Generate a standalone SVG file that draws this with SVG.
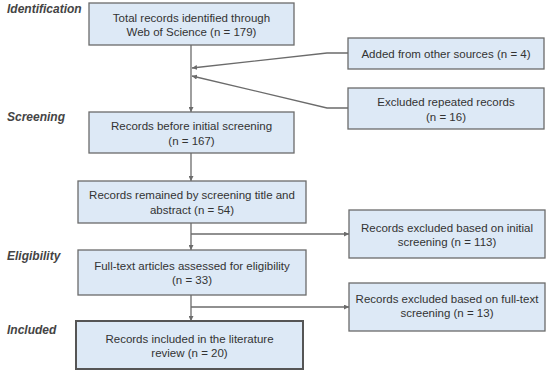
<svg xmlns="http://www.w3.org/2000/svg" width="550" height="374" viewBox="0 0 550 374">
<defs>
<style>
.box{fill:#dde9f6;stroke:#6b6b6b;stroke-width:1.3}
.boxb{fill:#dde9f6;stroke:#555;stroke-width:2}
.t{font-family:"Liberation Sans",Arial,sans-serif;font-size:11.5px;fill:#333;text-anchor:middle}
.stage{font-family:"Liberation Sans",Arial,sans-serif;font-size:12px;font-weight:bold;font-style:italic;fill:#444}
.c{fill:none;stroke:#6b6b6b;stroke-width:1.3}
</style>
<marker id="ah" viewBox="0 0 10 10" refX="10" refY="5" markerWidth="5" markerHeight="5" orient="auto" markerUnits="userSpaceOnUse">
<path d="M0,0 L10,5 L0,10 z" fill="#6b6b6b"/>
</marker>
</defs>
<rect width="550" height="374" fill="#fff"/>
<g id="stages">
<text class="stage" x="7" y="13">Identification</text>
<text class="stage" x="7" y="121">Screening</text>
<text class="stage" x="7" y="260">Eligibility</text>
<text class="stage" x="7" y="334">Included</text>
</g>
<g id="connectors">
<path class="c" d="M191,45 V112" marker-end="url(#ah)"/>
<path class="c" d="M348,53 H327 L192,68" marker-end="url(#ah)"/>
<path class="c" d="M348,108 H327 L192,76" marker-end="url(#ah)"/>
<path class="c" d="M191,153 V181" marker-end="url(#ah)"/>
<path class="c" d="M191,223 V250" marker-end="url(#ah)"/>
<path class="c" d="M191,234 H349" marker-end="url(#ah)"/>
<path class="c" d="M191,295 V321" marker-end="url(#ah)"/>
<path class="c" d="M191,307 H349" marker-end="url(#ah)"/>
</g>
<g id="n1"><rect class="box" x="89" y="3" width="205" height="42"/>
<text class="t" x="191.5" y="21.5">Total records identified through</text>
<text class="t" x="191.5" y="36">Web of Science (n = 179)</text></g>
<g id="n2"><rect class="box" x="348" y="38" width="196" height="31"/>
<text class="t" x="446" y="57.5">Added from other sources (n = 4)</text></g>
<g id="n3"><rect class="box" x="348" y="88" width="196" height="41"/>
<text class="t" x="446" y="106">Excluded repeated records</text>
<text class="t" x="446" y="121">(n = 16)</text></g>
<g id="n4"><rect class="box" x="89" y="112" width="205" height="41"/>
<text class="t" x="191.5" y="130">Records before initial screening</text>
<text class="t" x="191.5" y="144.5">(n = 167)</text></g>
<g id="n5"><rect class="box" x="78" y="181" width="228" height="42"/>
<text class="t" x="192" y="199">Records remained by screening title and</text>
<text class="t" x="192" y="213.5">abstract (n = 54)</text></g>
<g id="n6"><rect class="box" x="349" y="210" width="196" height="48"/>
<text class="t" x="447" y="232">Records excluded based on initial</text>
<text class="t" x="447" y="246">screening (n = 113)</text></g>
<g id="n7"><rect class="box" x="78" y="250" width="228" height="45"/>
<text class="t" x="192" y="270">Full-text articles assessed for eligibility</text>
<text class="t" x="192" y="283.5">(n = 33)</text></g>
<g id="n8"><rect class="box" x="349" y="283" width="196" height="48"/>
<text class="t" x="447" y="303">Records excluded based on full-text</text>
<text class="t" x="447" y="317">screening (n = 13)</text></g>
<g id="n9"><rect class="boxb" x="76" y="321" width="227" height="48"/>
<text class="t" x="189.5" y="343">Records included in the literature</text>
<text class="t" x="189.5" y="356.5">review (n = 20)</text></g>
</svg>
